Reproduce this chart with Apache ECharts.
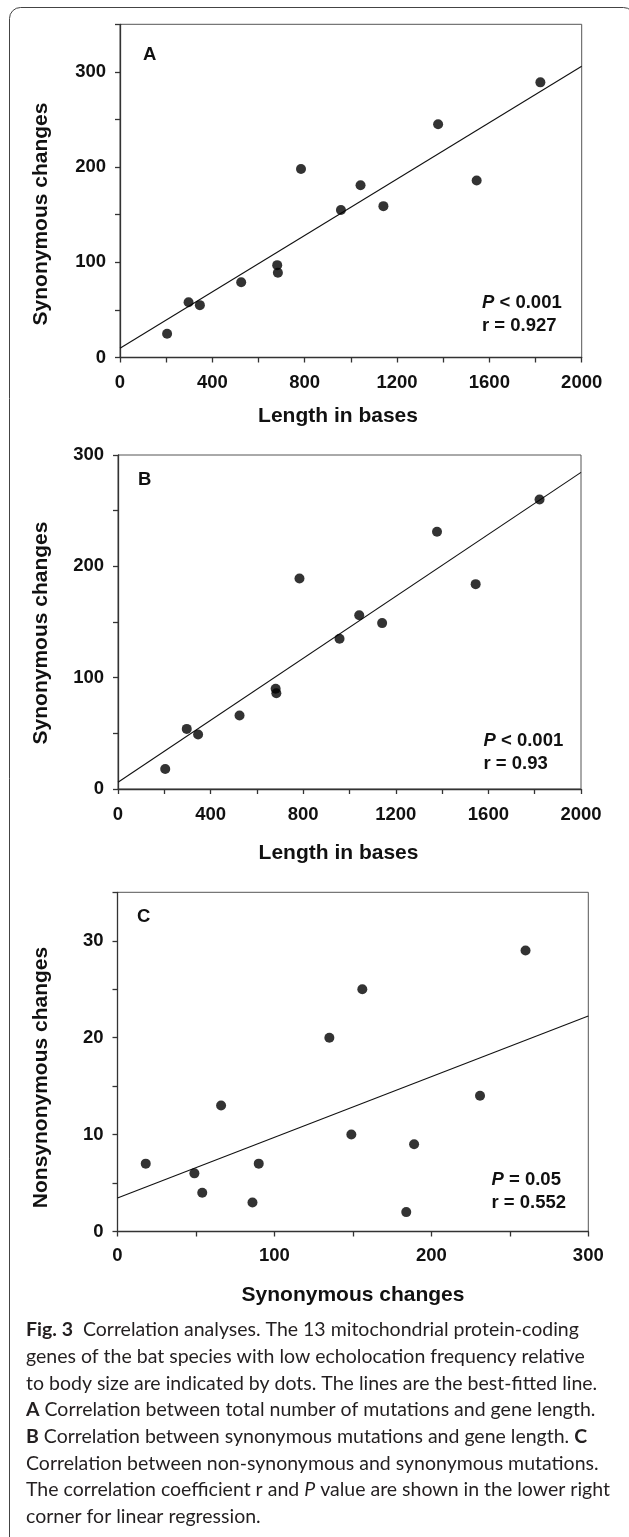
<!DOCTYPE html>
<html>
<head>
<meta charset="utf-8">
<script src="https://cdn.jsdelivr.net/npm/echarts@6/dist/echarts.min.js"></script>
<style>
html,body{margin:0;padding:0;background:#fff;}
#chart{width:629px;height:1537px;}
</style>
</head>
<body>
<div id="chart"></div>
<script>
// 13 mitochondrial protein-coding genes
var genes   = ['ATP8','ND4L','ND3','ND6','ATP6','COX2','COX3','ND1','ND2','CYTB','ND4','COX1','ND5'];
var lengths = [204, 297, 346, 525, 681, 684, 784, 957, 1042, 1141, 1378, 1545, 1821];
var totalChanges  = [25, 58, 55, 79, 97, 89, 198, 155, 181, 159, 245, 186, 289];
var synChanges    = [18, 54, 49, 66, 90, 86, 189, 135, 156, 149, 231, 184, 260];
var nonsynChanges = [7, 4, 6, 13, 7, 3, 9, 20, 25, 10, 14, 2, 29];
// best-fitted lines (end points)
var fitA = [[0, 9.7], [2000, 305.9]];
var fitB = [[0, 6.0], [2000, 284.4]];
var fitC = [[0, 3.45], [300, 22.24]];
// axis ranges
var xTicksLen = {min: 0, max: 2000, step: 200, labelStep: 400};
var yTicksA = {min: 0, max: 350, step: 50, labelStep: 100};
var yTicksB = {min: 0, max: 300, step: 50, labelStep: 100};
var xTicksC = {min: 0, max: 300, step: 50, labelStep: 100};
var yTicksC = {min: 0, max: 35, step: 5, labelStep: 10};

var captionLines = [
  '{b|Fig. 3}  Correlation analyses. The 13 mitochondrial protein-coding',
  'genes of the bat species with low echolocation frequency relative',
  'to body size are indicated by dots. The lines are the best-fitted line.',
  '{b|A} Correlation between total number of mutations and gene length.',
  '{b|B} Correlation between synonymous mutations and gene length. {b|C}',
  'Correlation between non-synonymous and synonymous mutations.',
  'The correlation coefficient r and {i|P} value are shown in the lower right',
  'corner for linear regression.'
];

var AX = 'Liberation Sans, Arial, sans-serif';
var axisColor = '#333';
var textColor = '#111';

function pairs(xs, ys){ return xs.map(function(x,i){ return [x, ys[i]]; }); }

function makeAxis(t, gi, margin){
  return {
    gridIndex: gi, type: 'value', min: t.min, max: t.max, interval: t.step,
    axisLine: {show: true, onZero: false, lineStyle: {color: axisColor, width: 1.3}},
    axisTick: {show: true, inside: false, length: 5, lineStyle: {color: axisColor, width: 1.3}},
    axisLabel: {
      margin: margin, fontFamily: AX, fontSize: 18.5, fontWeight: 'bold', color: textColor,
      formatter: function(v){ return (Math.round(v) % t.labelStep === 0) ? String(v) : ''; }
    },
    splitLine: {show: false}
  };
}

var grids = [
  {left: 120, top: 24.3, width: 461.7, height: 333.2},
  {left: 118, top: 455, width: 463, height: 334},
  {left: 117.5, top: 892.3, width: 470.8, height: 339.2}
];
grids.forEach(function(g){ g.show = true; g.borderColor = '#555'; g.borderWidth = 1; g.backgroundColor = 'transparent'; });

function scatter(gi, data){
  return {type: 'scatter', xAxisIndex: gi, yAxisIndex: gi, data: data, symbol: 'circle', symbolSize: 10,
          itemStyle: {color: '#000'}, silent: true, z: 3};
}
function fit(gi, data){
  return {type: 'line', xAxisIndex: gi, yAxisIndex: gi, data: data, symbol: 'none', silent: true,
          lineStyle: {color: '#111', width: 1.1}, z: 2};
}

function txt(x, y, text, opts){
  var s = {text: text, x: x, y: y, fill: textColor, font: 'bold 21px ' + AX, align: 'center', verticalAlign: 'middle'};
  for (var k in opts) s[k] = opts[k];
  return {type: 'text', style: s, z: 10, silent: true};
}

var graphics = [
  {type: 'rect', shape: {x: 9.5, y: 7.5, width: 625, height: 1545, r: 11},
   style: {fill: 'none', stroke: '#444', lineWidth: 1}, z: 0, silent: true},
  // axis titles
  txt(338, 416.5, 'Length in bases'),
  txt(338.5, 853.5, 'Length in bases'),
  txt(353, 1295, 'Synonymous changes'),
  Object.assign(txt(0, 0, 'Synonymous changes'), {x: 41, y: 214, rotation: Math.PI / 2}),
  Object.assign(txt(0, 0, 'Synonymous changes'), {x: 41, y: 633, rotation: Math.PI / 2}),
  Object.assign(txt(0, 0, 'Nonsynonymous changes'), {x: 41, y: 1077.5, rotation: Math.PI / 2}),
  // panel letters
  txt(143, 55, 'A', {align: 'left', font: 'bold 18.5px ' + AX}),
  txt(138, 480, 'B', {align: 'left', font: 'bold 18.5px ' + AX}),
  txt(137, 916.5, 'C', {align: 'left', font: 'bold 18.5px ' + AX})
];

var richStat = {
  i: {fontStyle: 'italic', fontWeight: 'bold', fontFamily: AX, fontSize: 18.5, fill: textColor, color: textColor},
  b: {fontWeight: 'bold', fontFamily: AX, fontSize: 18.5, fill: textColor, color: textColor}
};
[[482, 303, '{i|P}{b| < 0.001}'], [482, 326, '{b|r = 0.927}'],
 [483.5, 740.5, '{i|P}{b| < 0.001}'], [483.5, 763.5, '{b|r = 0.93}'],
 [491.5, 1179.5, '{i|P}{b| = 0.05}'], [491.5, 1203, '{b|r = 0.552}']].forEach(function(a){
  graphics.push({type: 'text', silent: true, z: 10,
    style: {x: a[0], y: a[1], text: a[2], rich: richStat, align: 'left', verticalAlign: 'middle',
            font: 'bold 18.5px ' + AX, fill: textColor}});
});

var capFont = 'Lato, "Open Sans", sans-serif';
var capRich = {
  b: {fontWeight: 'bold', fontFamily: capFont, fontSize: 19.5, fill: '#231f20', color: '#231f20'},
  i: {fontStyle: 'italic', fontFamily: capFont, fontSize: 19.5, fill: '#231f20', color: '#231f20'}
};
captionLines.forEach(function(line, i){
  graphics.push({type: 'text', silent: true, z: 10,
    style: {x: 26, y: 1330 + i * 26.67, text: line, rich: capRich, align: 'left', verticalAlign: 'middle',
            font: '19.5px ' + capFont, fill: '#231f20'}});
});

var chart = echarts.init(document.getElementById('chart'), null, {renderer: 'canvas'});
chart.setOption({
  animation: false,
  backgroundColor: '#fff',
  grid: grids,
  xAxis: [makeAxis(xTicksLen, 0, 16), makeAxis(xTicksLen, 1, 16), makeAxis(xTicksC, 2, 15)],
  yAxis: [makeAxis(yTicksA, 0, 14), makeAxis(yTicksB, 1, 14), makeAxis(yTicksC, 2, 14)],
  series: [
    fit(0, fitA), scatter(0, pairs(lengths, totalChanges)),
    fit(1, fitB), scatter(1, pairs(lengths, synChanges)),
    fit(2, fitC), scatter(2, pairs(synChanges, nonsynChanges))
  ],
  graphic: graphics
});
</script>
</body>
</html>
